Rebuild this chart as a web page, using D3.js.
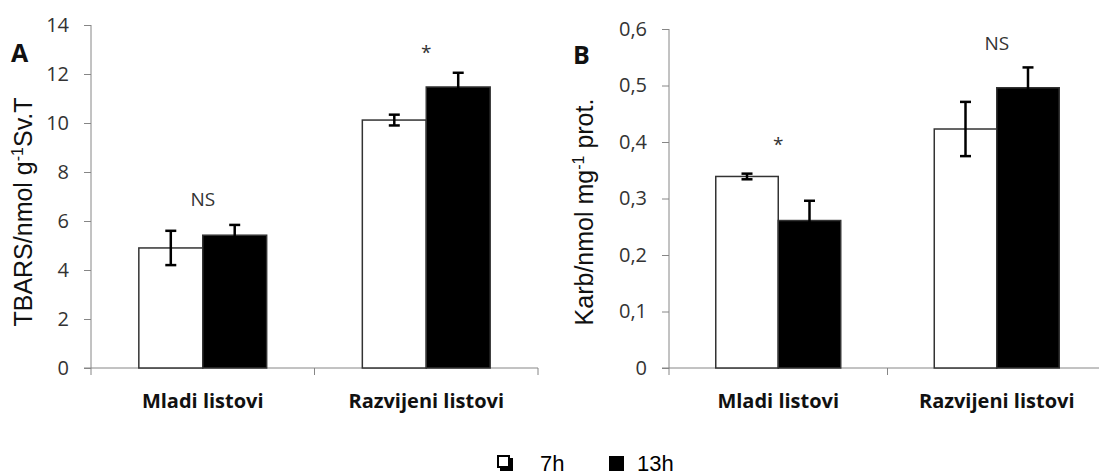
<!DOCTYPE html>
<html><head><meta charset="utf-8">
<script src="https://cdn.jsdelivr.net/npm/d3@7"></script>
<style>
body{margin:0;background:#fff;}
svg{display:block;font-family:"Open Sans",sans-serif;}
</style></head>
<body><svg id="c" width="1099" height="476"></svg>
<script>
const categories = ["Mladi listovi", "Razvijeni listovi"];
const series = ["7h", "13h"];
// Panel A: TBARS
const tbars7h = [4.9, 10.12];
const tbars13h = [5.42, 11.47];
const tbarsErr7h = [0.7, 0.22];
const tbarsErr13h = [0.42, 0.58];
const tbarsTicks = [0, 2, 4, 6, 8, 10, 12, 14];
const tbarsSig = ["NS", "*"];
// Panel B: Karb
const karb7h = [0.339, 0.423];
const karb13h = [0.261, 0.496];
const karbErr7h = [0.005, 0.048];
const karbErr13h = [0.035, 0.036];
const karbTicks = [0, 0.1, 0.2, 0.3, 0.4, 0.5, 0.6];
const karbTickLabels = ["0", "0,1", "0,2", "0,3", "0,4", "0,5", "0,6"];
const karbSig = ["*", "NS"];

const svg = d3.select("#c");
const axisColor = "#868686";
const textColor = "#333";

function panel(o) {
  const g = svg.append("g");
  const x0 = d3.scaleBand().domain(categories).range(o.xr).paddingInner(0.428).paddingOuter(0.214);
  const x1 = d3.scaleBand().domain(series).range([0, x0.bandwidth()]);
  const y = d3.scaleLinear().domain(o.domain).range(o.yr);

  // y axis
  const ya = d3.axisLeft(y).tickValues(o.ticks).tickSize(7).tickPadding(15)
    .tickFormat((d, i) => o.tickLabels ? o.tickLabels[i] : String(d));
  const yg = g.append("g").attr("transform", `translate(${o.xr[0]},0)`).call(ya);
  yg.select(".domain").remove();
  yg.append("line").attr("y1", o.yr[0]).attr("y2", o.yr[1]).attr("stroke", axisColor);
  yg.selectAll("line").attr("stroke", axisColor);
  yg.selectAll("text").attr("fill", textColor).style("font-size", "20px").style("font-family", "Open Sans");

  // x axis line and ticks between categories
  g.append("line").attr("x1", o.xr[0] - 7).attr("x2", o.xr[1]).attr("y1", y(0)).attr("y2", y(0)).attr("stroke", axisColor);
  const bounds = [o.xr[0], (o.xr[0] + o.xr[1]) / 2, o.xr[1]];
  g.selectAll(".xt").data(bounds).enter().append("line")
    .attr("x1", d => d).attr("x2", d => d).attr("y1", y(0)).attr("y2", y(0) + 7).attr("stroke", axisColor);
  g.selectAll(".xl").data(categories).enter().append("text")
    .attr("x", d => x0(d) + x0.bandwidth() / 2).attr("y", y(0) + 40)
    .attr("text-anchor", "middle").style("font-size", "20px").style("font-weight", "bold")
    .attr("fill", "#111").text(d => d);

  // bars
  const rows = [];
  categories.forEach((c, i) => {
    rows.push({c, s: "7h", v: o.v7[i], e: o.e7[i]});
    rows.push({c, s: "13h", v: o.v13[i], e: o.e13[i]});
  });
  g.selectAll(".bar").data(rows).enter().append("rect")
    .attr("x", d => x0(d.c) + x1(d.s)).attr("width", x1.bandwidth())
    .attr("y", d => y(d.v)).attr("height", d => y(0) - y(d.v))
    .attr("fill", d => d.s === "7h" ? "#fff" : "#000")
    .attr("stroke", "#333").attr("stroke-width", 1.5);

  // error bars
  const eg = g.selectAll(".err").data(rows).enter().append("g");
  const cx = d => x0(d.c) + x1(d.s) + x1.bandwidth() / 2;
  eg.append("line").attr("x1", cx).attr("x2", cx)
    .attr("y1", d => y(d.v - d.e)).attr("y2", d => y(d.v + d.e)).attr("stroke", "#000").attr("stroke-width", 2.5);
  eg.append("line").attr("x1", d => cx(d) - 5.5).attr("x2", d => cx(d) + 5.5)
    .attr("y1", d => y(d.v + d.e)).attr("y2", d => y(d.v + d.e)).attr("stroke", "#000").attr("stroke-width", 2.5);
  eg.append("line").attr("x1", d => cx(d) - 5.5).attr("x2", d => cx(d) + 5.5)
    .attr("y1", d => y(d.v - d.e)).attr("y2", d => y(d.v - d.e)).attr("stroke", "#000").attr("stroke-width", 2.5);

  // significance labels
  g.selectAll(".sig").data(categories).enter().append("text")
    .attr("x", d => x0(d) + x0.bandwidth() / 2)
    .attr("y", (d, i) => o.sig[i] === "*" ? y(o.sigY[i]) + 12 : y(o.sigY[i]) + 7)
    .attr("text-anchor", "middle").attr("fill", textColor)
    .style("font-size", "19px")
    .text((d, i) => o.sig[i]);

  // panel letter
  g.append("text").attr("x", o.letterX).attr("y", o.letterY).style("font-size", "25px").style("font-weight", "bold")
    .attr("fill", "#111").text(o.letter);

  // y title
  const t = g.append("text").attr("transform", `translate(${o.titleX},${o.titleY}) rotate(-90)`)
    .attr("text-anchor", "middle").attr("fill", "#111").style("font-size", "25px").style("font-family", "Liberation Sans");
  o.title(t);
}

panel({
  xr: [91, 538], yr: [368, 25], domain: [0, 14], ticks: tbarsTicks,
  v7: tbars7h, v13: tbars13h, e7: tbarsErr7h, e13: tbarsErr13h,
  sig: tbarsSig, sigY: [6.9, 13.1], letter: "A", letterX: 11, letterY: 62, titleX: 32, titleY: 212,
  title: t => {
    t.append("tspan").text("TBARS/nmol g");
    t.append("tspan").attr("dy", -9).style("font-size", "16px").text("-1");
    t.append("tspan").attr("dy", 9).text("Sv.T");
  }
});
panel({
  xr: [669, 1106], yr: [368, 29], domain: [0, 0.6], ticks: karbTicks, tickLabels: karbTickLabels,
  v7: karb7h, v13: karb13h, e7: karbErr7h, e13: karbErr13h,
  sig: karbSig, sigY: [0.405, 0.575], letter: "B", letterX: 573, letterY: 64, titleX: 593, titleY: 212,
  title: t => {
    t.append("tspan").text("Karb/nmol mg");
    t.append("tspan").attr("dy", -9).style("font-size", "16px").text("-1");
    t.append("tspan").attr("dy", 9).text(" prot.");
  }
});

// legend
const lg = svg.append("g").attr("transform", "translate(0,463)");
const legendItems = [{s: "7h", x: 497}, {s: "13h", x: 609}];
legendItems.forEach(d => {
  if (d.s === "7h") {
    lg.append("rect").attr("x", d.x + 3).attr("y", -5).attr("width", 13).attr("height", 13).attr("fill", "#000");
    lg.append("rect").attr("x", d.x + 1).attr("y", -7).attr("width", 11).attr("height", 11).attr("fill", "#fff").attr("stroke", "#000").attr("stroke-width", 2);
  } else {
    lg.append("rect").attr("x", d.x).attr("y", -7).attr("width", 15).attr("height", 15).attr("fill", "#000");
  }
  lg.append("text").attr("x", d.x + (d.s === "7h" ? 43 : 28)).attr("y", 8).style("font-family", "Liberation Sans")
    .style("font-size", "22px").attr("fill", "#000").text(d.s);
});
</script></body></html>
